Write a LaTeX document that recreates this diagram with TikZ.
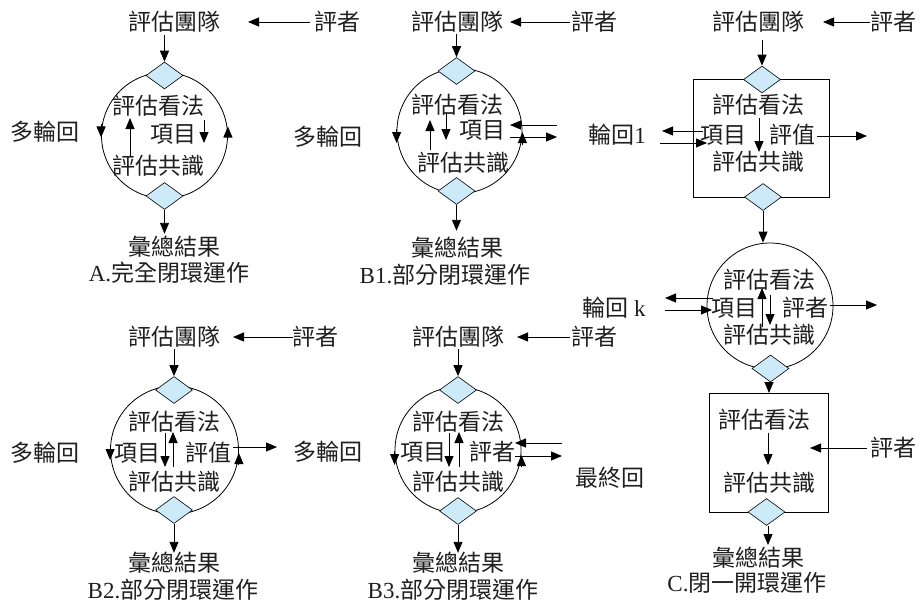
\documentclass[tikz,border=0pt]{standalone}
\usepackage{fontspec}
\setmainfont{Noto Sans CJK TC}
\newfontfamily\lat{Liberation Serif}
\usetikzlibrary{shapes.geometric,arrows.meta,calc}
\definecolor{diablue}{RGB}{204,234,248}
\begin{document}
\begin{tikzpicture}[x=1pt,y=-1pt,
  txt/.style={inner sep=0pt,font=\fontsize{23}{27}\selectfont,text=black!88},
  arr/.style={-{Triangle[length=11pt,width=9pt]},line width=0.9pt},
  dia/.style={diamond,draw,fill=diablue,inner sep=0pt,minimum width=37pt,minimum height=27pt,line width=0.6pt},
  ring/.style={circle,draw,inner sep=0pt,line width=0.8pt},
  boxs/.style={rectangle,draw,inner sep=0pt,line width=0.8pt}]
\useasboundingbox (0,0) rectangle (922,602);

% ---------- Panel A ----------
\node[ring,minimum size=126pt] (Acir) at (164.5,135.5) {};
\node[dia] (Ad1) at (164.5,75.5) {};
\node[dia] (Ad2) at (164.5,196) {};
\node[txt] (At) at (174,22) {評估團隊};
\node[txt] (Ae) at (337,22) {評者};
\node[txt] (Av) at (158,106) {評估看法};
\node[txt] (Ai) at (173,134) {項目};
\node[txt] (Ac) at (158,166) {評估共識};
\node[txt] (Am) at (45,132) {多輪回};
\node[txt] (As) at (174,247) {彙總結果};
\node[txt] (Acap) at (169,273) {{\lat A.}完全閉環運作};
\draw[arr] ($(Ae)+(-27,0)$) -- ($(At)+(74,0)$);
\draw[arr] ($(Ad1.north)+(0,-27)$) -- (Ad1.north);
\draw[arr] (130,157) -- (130,118);
\draw[arr] (204,120) -- (204,143);
\draw[arr] ($(Acir.west)+(0,-11)$) -- ($(Acir.west)+(0,2)$);
\draw[arr] ($(Acir.east)+(0,4)$) -- ($(Acir.east)+(0,-9)$);
\draw[arr] (Ad2.south) -- ($(Ad2.south)+(0,24)$);

% ---------- Panel B1 ----------
\node[ring,minimum size=125pt] (Bcir) at (459.5,131) {};
\node[dia] (Bd1) at (456.5,71) {};
\node[dia] (Bd2) at (456.5,191) {};
\node[txt] (Bt) at (457,22) {評估團隊};
\node[txt] (Be) at (594,22) {評者};
\node[txt] (Bv) at (457,105) {評估看法};
\node[txt] (Bi) at (482,130) {項目};
\node[txt] (Bc) at (463,163) {評估共識};
\node[txt] (Bm) at (328,137) {多輪回};
\node[txt] (Bs) at (457,248) {彙總結果};
\node[txt] (Bcap) at (445,275) {{\lat B1.}部分閉環運作};
\draw[arr] ($(Be)+(-24,0)$) -- ($(Bt)+(53,0)$);
\draw[arr] ($(Bd1.north)+(0,-23)$) -- (Bd1.north);
\draw[arr] (430,150) -- (430,120);
\draw[arr] (446,113) -- (446,140);
\draw[arr] ($(Bcir.west)+(0,-2)$) -- ($(Bcir.west)+(0,12)$);
\draw[arr] ($(Bcir.east)+(0,14)$) -- ($(Bcir.east)+(0,1)$);
\draw[arr] (557,125) -- (510,125);
\draw[arr] (510,137) -- (557,137);
\draw[arr] (Bd2.south) -- ($(Bd2.south)+(0,26)$);

% ---------- Panel C (top box) ----------
\node[boxs,minimum width=136pt,minimum height=118pt] (Cbox1) at (761,138) {};
\node[dia] (Cd1) at (762,79.5) {};
\node[dia] (Cd2) at (763,197) {};
\node[txt] (Ct) at (758,22) {評估團隊};
\node[txt] (Ce) at (893,22) {評者};
\node[txt] (Cv) at (758,105) {評估看法};
\node[txt] (Ci) at (723,135) {項目};
\node[txt] (Cval) at (792,135) {評值};
\node[txt] (Cc) at (758,162) {評估共識};
\node[txt] (Cr1) at (617,135) {輪回{\lat 1}};
\draw[arr] ($(Ce)+(-23,0)$) -- ($(Ct)+(65,0)$);
\draw[arr] ($(Cd1.north)+(0,-26)$) -- (Cd1.north);
\draw[arr] (759,118) -- (759,152);
\draw[arr] (703,131) -- (662,131);
\draw[arr] (660,143) -- (707,143);
\draw[arr] (817,136) -- (867,136);

% ---------- Panel C (circle) ----------
\node[ring,minimum size=126pt] (Ccir) at (770,306) {};
\node[dia] (Cd3) at (770.5,368.5) {};
\draw[arr] (Cd2.south) -- (Cd2.south |- Ccir.north);
\node[txt] (Cv2) at (769,280) {評估看法};
\node[txt] (Ci2) at (734,308) {項目};
\node[txt] (Ce2) at (805,308) {評者};
\node[txt] (Cc2) at (769,335) {評估共識};
\node[txt] (Crk) at (614,308) {輪回{\lat\ k}};
\draw[arr] (762,327) -- (762,288);
\draw[arr] (770,295) -- (770,325);
\draw[arr] (713,298) -- (665,298);
\draw[arr] (665,310) -- (712,310);
\draw[arr] (830,305) -- (877,305);

% ---------- Panel C (bottom box) ----------
\node[boxs,minimum width=119pt,minimum height=119pt] (Cbox2) at (768.5,452.5) {};
\node[dia] (Cd4) at (766.5,512) {};
\draw[arr] (Cd3.south -| 769,0) -- (769,393);
\node[txt] (Cv3) at (764,420) {評估看法};
\node[txt] (Cc3) at (769,483) {評估共識};
\node[txt] (Ce3) at (893,448) {評者};
\node[txt] (Cfin) at (610,478) {最終回};
\node[txt] (Cs) at (758,558) {彙總結果};
\node[txt] (Ccap) at (747,583) {{\lat C.}閉一開環運作};
\draw[arr] (768,433) -- (768,465);
\draw[arr] ($(Ce3)+(-26,0)$) -- (810,448);
\draw[arr] (Cd4.south -| 768,0) -- (768,545);

% ---------- Panel B2 ----------
\node[ring,minimum size=128pt] (Dcir) at (174.5,450) {};
\node[dia] (Dd1) at (174,390) {};
\node[dia] (Dd2) at (174,510) {};
\node[txt] (Dt) at (174,337) {評估團隊};
\node[txt] (De) at (315,337) {評者};
\node[txt] (Dv) at (174,422) {評估看法};
\node[txt] (Di) at (137,453) {項目};
\node[txt] (Dval) at (208,453) {評值};
\node[txt] (Dc) at (174,482) {評估共識};
\node[txt] (Dm) at (45,453) {多輪回};
\node[txt] (Dm2) at (328,452) {多輪回};
\node[txt] (Ds) at (174,563) {彙總結果};
\node[txt] (Dcap) at (173,590) {{\lat B2.}部分閉環運作};
\draw[arr] ($(De)+(-22,0)$) -- ($(Dt)+(59,0)$);
\draw[arr] ($(Dd1.north)+(0,-27)$) -- (Dd1.north);
\draw[arr] (165,433) -- (165,467);
\draw[arr] (173,467) -- (173,432);
\draw[arr] ($(Dcir.west)+(0,-5)$) -- ($(Dcir.west)+(0,10)$);
\draw[arr] ($(Dcir.east)+(0,15)$) -- ($(Dcir.east)+(0,3)$);
\draw[arr] (233,447) -- (277,447);
\draw[arr] (Dd2.south) -- ($(Dd2.south)+(0,29)$);

% ---------- Panel B3 ----------
\node[ring,minimum size=126pt] (Ecir) at (458,450) {};
\node[dia] (Ed1) at (458,390) {};
\node[dia] (Ed2) at (458,511) {};
\node[txt] (Et) at (458,337) {評估團隊};
\node[txt] (Ee) at (594,337) {評者};
\node[txt] (Ev) at (458,422) {評估看法};
\node[txt] (Ei) at (423,452) {項目};
\node[txt] (Ee2) at (492,452) {評者};
\node[txt] (Ec) at (458,482) {評估共識};
\node[txt] (Es) at (458,563) {彙總結果};
\node[txt] (Ecap) at (453,590) {{\lat B3.}部分閉環運作};
\draw[arr] ($(Ee)+(-24,0)$) -- ($(Et)+(59,0)$);
\draw[arr] ($(Ed1.north)+(0,-27)$) -- (Ed1.north);
\draw[arr] (449,433) -- (449,467);
\draw[arr] (459,467) -- (459,432);
\draw[arr] ($(Ecir.west)+(0,1)$) -- ($(Ecir.west)+(0,15)$);
\draw[arr] ($(Ecir.east)+(0,17)$) -- ($(Ecir.east)+(0,5)$);
\draw[arr] (562,443) -- (515,443);
\draw[arr] (515,456) -- (562,456);
\draw[arr] (Ed2.south) -- ($(Ed2.south)+(0,28)$);
\end{tikzpicture}
\end{document}
